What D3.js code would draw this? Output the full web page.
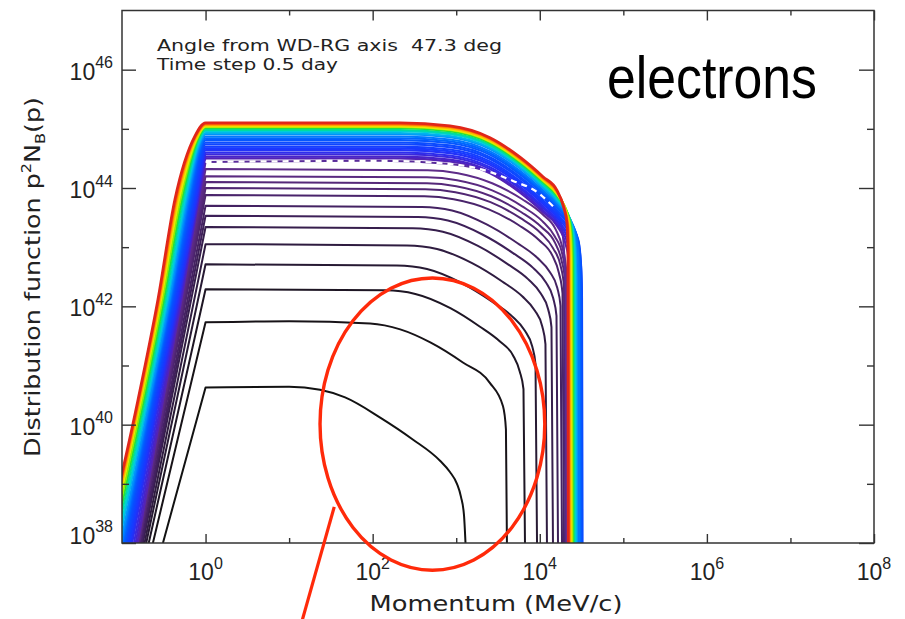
<!DOCTYPE html>
<html>
<head>
<meta charset="utf-8">
<script src="https://cdn.jsdelivr.net/npm/d3@7"></script>
<style>
  body { margin: 0; background: #fff; }
  svg { display: block; }
</style>
</head>
<body>
<svg id="chart" width="905" height="619"></svg>
<script>
// Electron spectra p^2 N(p) versus momentum, one curve per 0.5-day time step.
// Every knot is [log10 p (MeV/c), log10 p^2N(p)].

// Axis ticks
const xMajor = [1e0, 1e2, 1e4, 1e6, 1e8];
const xMinor = [1e1, 1e3, 1e5, 1e7];
const yMajor = [1e38, 1e40, 1e42, 1e44, 1e46];
const yMinor = [1e39, 1e41, 1e43, 1e45];

// Early time steps (black to dark purple)
const earlySpectra = [
  [[-0.51,38],[0,40.63],[1.0,40.64],[1.37,40.59],[1.67,40.46],[2.09,40.12],[2.48,39.75],[2.806,39.39],[2.925,39.20],[3.009,39.00],[3.057,38.78],[3.093,38.47],[3.111,38]],
  [[-0.63,38],[0,41.73],[1.0,41.75],[1.97,41.71],[2.33,41.61],[2.69,41.39],[3.08,41.05],[3.40,40.71],[3.56,40.31],[3.595,39.92],[3.607,38]],
  [[-0.68,38],[0,42.29],[2.15,42.27],[2.51,42.21],[2.93,41.97],[3.28,41.66],[3.52,41.41],[3.68,41.17],[3.76,40.90],[3.805,40.60],[3.823,38]],
  [[-0.71,38],[0,42.71],[2.29,42.69],[2.65,42.63],[3.07,42.39],[3.43,42.08],[3.67,41.83],[3.82,41.59],[3.91,41.32],[3.949,41.02],[3.967,38]],
  [[-0.73,38],[0,43.05],[2.41,43.03],[2.77,42.97],[3.19,42.73],[3.55,42.42],[3.79,42.17],[3.94,41.93],[4.03,41.66],[4.068,41.36],[4.086,38]],
  [[-0.75,38],[0,43.34],[2.48,43.32],[2.84,43.26],[3.26,43.02],[3.62,42.71],[3.86,42.46],[4.01,42.22],[4.10,41.95],[4.14,41.65],[4.158,38]],
  [[-0.76,38],[0,43.53],[2.54,43.51],[2.90,43.45],[3.32,43.21],[3.68,42.90],[3.92,42.65],[4.07,42.41],[4.16,42.14],[4.20,41.84],[4.218,38]],
  [[-0.77,38],[0,43.70],[2.59,43.68],[2.95,43.62],[3.37,43.38],[3.73,43.07],[3.97,42.82],[4.12,42.58],[4.21,42.31],[4.248,42.01],[4.266,38]],
  [[-0.785,38],[0,43.88],[2.62,43.86],[2.97,43.81],[3.39,43.64],[3.75,43.37],[3.99,43.12],[4.15,42.86],[4.23,42.56],[4.272,42.22],[4.29,38]],
  [[-0.79,38],[0,44.00],[2.63,43.98],[2.99,43.93],[3.41,43.76],[3.77,43.49],[4.01,43.24],[4.16,42.98],[4.25,42.68],[4.29,42.34],[4.308,38]],
  [[-0.80,38],[0,44.10],[2.65,44.08],[3.00,44.03],[3.42,43.86],[3.78,43.59],[4.02,43.34],[4.18,43.08],[4.26,42.78],[4.302,42.44],[4.32,38]],
  [[-0.80,38],[0,44.20],[2.65,44.18],[3.01,44.13],[3.43,43.96],[3.79,43.69],[4.03,43.44],[4.18,43.18],[4.27,42.88],[4.308,42.54],[4.326,38]],
  [[-0.81,38],[0,44.32],[2.66,44.30],[3.02,44.25],[3.43,44.08],[3.79,43.81],[4.03,43.56],[4.19,43.30],[4.27,43.00],[4.314,42.66],[4.332,38]]
];
const earlyColors = ["#121212","#171317","#1e1624","#271a33","#2f1c40","#361e4c","#3d2058",
                     "#442262","#4a246b","#502672","#552879","#5a2a80","#5e2c88"];

// Reference spectrum drawn with white dashes over its plateau and roll-off
const dashedSpectrum = [[-0.815,38],[0,44.44],[2.09,44.46],[2.89,44.41],[3.29,44.32],[3.68,44.12],[3.97,43.93],[4.16,43.69],[4.24,43.47],[4.28,43.14],[4.313,42.12],[4.32,38]];
const dashedColor = "#5a2c9a";

// Later time steps (purple through blue, cyan, green, yellow to red)
const lateSpectra = [
  [[-0.814,38],[-0.509,40.42],[-0.288,42.12],[-0.084,43.81],[-0.023,44.28],[0,44.50],[2.327,44.50],[2.925,44.45],[3.404,44.25],[3.763,43.92],[4.038,43.59],[4.206,43.36],[4.313,43.03],[4.349,42.75],[4.361,42.31],[4.365,38]],
  [[-0.836,38],[-0.527,40.42],[-0.300,42.12],[-0.090,43.81],[-0.028,44.31],[0,44.53],[2.327,44.53],[2.925,44.48],[3.404,44.28],[3.763,43.95],[4.038,43.62],[4.206,43.39],[4.337,43.04],[4.373,42.73],[4.385,42.28],[4.389,38]],
  [[-0.856,38],[-0.545,40.42],[-0.312,42.12],[-0.098,43.81],[-0.033,44.35],[0,44.57],[2.327,44.57],[2.925,44.52],[3.404,44.32],[3.763,43.99],[4.038,43.66],[4.206,43.43],[4.361,43.05],[4.397,42.72],[4.409,42.25],[4.413,38]],
  [[-0.878,38],[-0.563,40.42],[-0.324,42.12],[-0.106,43.81],[-0.038,44.38],[0,44.60],[2.327,44.60],[2.925,44.55],[3.404,44.35],[3.763,44.02],[4.038,43.69],[4.206,43.46],[4.385,43.05],[4.421,42.70],[4.433,42.21],[4.437,38]],
  [[-0.892,38],[-0.575,40.42],[-0.336,42.12],[-0.114,43.81],[-0.043,44.42],[0,44.64],[2.327,44.64],[2.925,44.59],[3.404,44.39],[3.763,44.06],[4.038,43.73],[4.206,43.50],[4.409,43.06],[4.445,42.69],[4.457,42.18],[4.461,38]],
  [[-0.908,38],[-0.587,40.42],[-0.348,42.12],[-0.126,43.81],[-0.047,44.45],[0,44.67],[2.327,44.67],[2.925,44.62],[3.404,44.42],[3.763,44.09],[4.038,43.76],[4.206,43.53],[4.433,43.07],[4.469,42.67],[4.481,42.15],[4.485,38]],
  [[-0.922,38],[-0.599,40.42],[-0.360,42.12],[-0.138,43.81],[-0.053,44.48],[0,44.70],[2.327,44.70],[2.925,44.65],[3.404,44.45],[3.763,44.12],[4.038,43.79],[4.206,43.56],[4.445,43.08],[4.481,42.68],[4.493,42.14],[4.497,38]],
  [[-0.938,38],[-0.611,40.42],[-0.372,42.12],[-0.150,43.81],[-0.058,44.52],[0,44.74],[2.327,44.74],[2.925,44.69],[3.404,44.49],[3.763,44.16],[4.038,43.83],[4.206,43.60],[4.457,43.11],[4.493,42.69],[4.505,42.15],[4.509,38]],
  [[-0.953,38],[-0.623,40.42],[-0.384,42.12],[-0.162,43.81],[-0.063,44.55],[0,44.77],[2.327,44.77],[2.925,44.72],[3.404,44.52],[3.763,44.19],[4.038,43.86],[4.206,43.63],[4.457,43.14],[4.493,42.72],[4.505,42.18],[4.509,38]],
  [[-0.969,38],[-0.635,40.42],[-0.396,42.12],[-0.174,43.81],[-0.068,44.59],[0,44.81],[2.327,44.81],[2.925,44.76],[3.404,44.56],[3.763,44.23],[4.038,43.90],[4.206,43.67],[4.445,43.19],[4.481,42.79],[4.493,42.25],[4.497,38]],
  [[-0.984,38],[-0.647,40.42],[-0.408,42.12],[-0.189,43.81],[-0.073,44.62],[0,44.84],[2.327,44.84],[2.925,44.79],[3.404,44.59],[3.763,44.26],[4.038,43.93],[4.206,43.70],[4.433,43.24],[4.469,42.84],[4.481,42.32],[4.485,38]],
  [[-1.000,38],[-0.659,40.42],[-0.420,42.12],[-0.203,43.81],[-0.077,44.65],[0,44.87],[2.327,44.87],[2.925,44.82],[3.404,44.62],[3.763,44.29],[4.038,43.96],[4.206,43.73],[4.421,43.28],[4.457,42.90],[4.469,42.38],[4.473,38]],
  [[-1.016,38],[-0.671,40.42],[-0.432,42.12],[-0.217,43.81],[-0.082,44.69],[0,44.91],[2.327,44.91],[2.925,44.86],[3.404,44.66],[3.763,44.33],[4.038,44.00],[4.206,43.77],[4.397,43.35],[4.433,42.99],[4.445,42.49],[4.449,38]],
  [[-1.037,38],[-0.689,40.42],[-0.449,42.12],[-0.232,43.81],[-0.087,44.71],[0,44.93],[2.327,44.93],[2.925,44.88],[3.404,44.68],[3.763,44.35],[4.038,44.02],[4.206,43.79],[4.385,43.38],[4.421,43.03],[4.433,42.54],[4.437,38]],
  [[-1.053,38],[-0.701,40.42],[-0.461,42.12],[-0.246,43.81],[-0.092,44.74],[0,44.96],[2.327,44.96],[2.925,44.91],[3.404,44.71],[3.763,44.38],[4.038,44.05],[4.206,43.82],[4.373,43.42],[4.409,43.09],[4.421,42.60],[4.425,38]],
  [[-1.074,38],[-0.719,40.42],[-0.479,42.12],[-0.264,43.81],[-0.096,44.76],[0,44.98],[2.327,44.98],[2.925,44.93],[3.404,44.73],[3.763,44.40],[4.038,44.07],[4.206,43.84],[4.361,43.46],[4.397,43.13],[4.409,42.66],[4.413,38]],
  [[-1.096,38],[-0.737,40.42],[-0.497,42.12],[-0.282,43.81],[-0.102,44.79],[0,45.01],[2.327,45.01],[2.925,44.96],[3.404,44.76],[3.763,44.43],[4.038,44.10],[4.206,43.87],[4.349,43.50],[4.385,43.19],[4.397,42.72],[4.401,38]],
  [[-1.118,38],[-0.755,40.42],[-0.515,42.12],[-0.300,43.81],[-0.107,44.81],[0,45.03],[2.327,45.03],[2.925,44.98],[3.404,44.78],[3.763,44.45],[4.038,44.12],[4.206,43.89],[4.337,43.54],[4.373,43.23],[4.385,42.78],[4.389,38]],
  [[-1.140,38],[-0.773,40.42],[-0.533,42.12],[-0.318,43.81],[-0.112,44.82],[0,45.04],[2.327,45.04],[2.925,44.99],[3.404,44.79],[3.763,44.46],[4.038,44.13],[4.206,43.90],[4.325,43.56],[4.361,43.27],[4.373,42.82],[4.377,38]],
  [[-1.157,38],[-0.785,40.42],[-0.545,42.12],[-0.336,43.81],[-0.117,44.84],[0,45.06],[2.327,45.06],[2.925,45.01],[3.404,44.81],[3.763,44.48],[4.038,44.15],[4.206,43.92],[4.313,43.59],[4.349,43.31],[4.361,42.87],[4.365,38]],
  [[-1.172,38],[-0.797,40.42],[-0.557,42.12],[-0.350,43.81],[-0.122,44.86],[0,45.08],[2.327,45.08],[2.925,45.03],[3.404,44.83],[3.763,44.50],[4.038,44.17],[4.206,43.94],[4.301,43.63],[4.337,43.36],[4.349,42.93],[4.353,38]],
  [[-1.189,38],[-0.808,40.42],[-0.569,42.12],[-0.366,43.81],[-0.126,44.88],[0,45.10],[2.327,45.10],[2.925,45.05],[3.404,44.85],[3.763,44.52],[4.038,44.19],[4.206,43.96],[4.289,43.66],[4.325,43.41],[4.337,42.98],[4.341,38]]
];
const lateColors = ["#5523b4","#4823c8","#3a28dc","#2d2ded","#2232f8","#1a38ff","#143eff","#0f45ff",
                    "#0a4cff","#0556ff","#0064ff","#0078ff","#0092fa","#00b0f0","#00cfd8","#00dca0",
                    "#20e040","#90ec00","#e8e800","#ffb400","#ff6a00","#e0261a"];

// Highlight ellipse and pointer (log10 p, log10 N)
const highlightLogP = [1.37, 4.06];
const highlightLogN = [37.54, 42.48];
const pointerFrom = [1.54, 38.61];
const pointerTo = [1.16, 36.71];

// ---------------------------------------------------------------
const svg = d3.select("#chart");
const X0 = 122, X1 = 874, Y0 = 10.5, Y1 = 543;
const x = d3.scaleLog().domain([1e-1, 1e8]).range([X0, X1]);
const y = d3.scaleLog().domain([1e38, 1e47]).range([Y1, Y0]);
const px = d => x(Math.pow(10, d[0]));
const py = d => y(Math.pow(10, d[1]));
const lineLin = d3.line().x(px).y(py);
const lineMono = d3.line().x(px).y(py).curve(d3.curveMonotoneX);

svg.append("rect").attr("width", 905).attr("height", 619).attr("fill", "#fff");
svg.append("defs").append("clipPath").attr("id", "plotArea")
  .append("rect").attr("x", X0).attr("y", Y0).attr("width", X1 - X0).attr("height", Y1 - Y0);

const plot = svg.append("g").attr("clip-path", "url(#plotArea)")
  .attr("fill", "none").attr("stroke-linejoin", "round");

// straight power-law rise, then smooth plateau and cutoff
const risePlusTail = pts => lineLin(pts.slice(0, 2)) + lineMono(pts.slice(1)).replace(/^M/, "L");

earlySpectra.forEach((pts, i) => {
  plot.append("path").attr("d", risePlusTail(pts))
    .attr("stroke", earlyColors[i]).attr("stroke-width", 2);
});
plot.append("path").attr("d", risePlusTail(dashedSpectrum))
  .attr("stroke", dashedColor).attr("stroke-width", 2);

lateSpectra.forEach((pts, i) => {
  plot.append("path").attr("d", lineMono(pts))
    .attr("stroke", lateColors[i])
    .attr("stroke-width", i === lateSpectra.length - 1 ? 2.8 : 2.1);
});

plot.append("path").attr("d", lineMono(dashedSpectrum.slice(1, 8)))
  .attr("stroke", "#fff").attr("stroke-width", 2.2)
  .attr("stroke-dasharray", "6,5");

// axes: frame with inward ticks on all four sides
const axes = svg.append("g");
function ticks(axis, tx, ty) {
  const g = axes.append("g").attr("transform", `translate(${tx},${ty})`).call(axis);
  g.select(".domain").remove();
  g.selectAll("text").remove();
  g.selectAll("line").attr("stroke", "#333").attr("stroke-width", 1.4);
}
const blank = () => "";
ticks(d3.axisBottom(x).tickValues(xMajor).tickSize(-9).tickFormat(blank), 0, Y1);
ticks(d3.axisBottom(x).tickValues(xMinor).tickSize(-5).tickFormat(blank), 0, Y1);
ticks(d3.axisTop(x).tickValues(xMajor).tickSize(-10).tickFormat(blank), 0, Y0);
ticks(d3.axisTop(x).tickValues(xMinor).tickSize(-5).tickFormat(blank), 0, Y0);
ticks(d3.axisLeft(y).tickValues(yMajor).tickSize(-14).tickFormat(blank), X0, 0);
ticks(d3.axisLeft(y).tickValues(yMinor).tickSize(-7).tickFormat(blank), X0, 0);
ticks(d3.axisRight(y).tickValues(yMajor).tickSize(-15).tickFormat(blank), X1, 0);
ticks(d3.axisRight(y).tickValues(yMinor).tickSize(-7).tickFormat(blank), X1, 0);

axes.append("rect").attr("x", X0).attr("y", Y0).attr("width", X1 - X0).attr("height", Y1 - Y0)
  .attr("fill", "none").attr("stroke", "#333").attr("stroke-width", 1.5);

const labelFont = '"Liberation Sans", Arial, sans-serif';
function powerLabel(px0, py0, anchor, v) {
  const t = axes.append("text").attr("x", px0).attr("y", py0)
    .attr("text-anchor", anchor).attr("font-family", labelFont)
    .attr("font-size", 23).attr("fill", "#222");
  t.append("tspan").text("10");
  t.append("tspan").attr("font-size", 16).attr("dy", -11.5).text(Math.round(Math.log10(v)));
}
xMajor.forEach(v => powerLabel(x(v), 580, "middle", v));
yMajor.forEach(v => powerLabel(113, Math.min(y(v) + 10, Y1 + 0.5), "end", v));

// axis titles
const titleFont = '"DejaVu Sans", Verdana, sans-serif';
axes.append("text").attr("x", 496).attr("y", 611).attr("text-anchor", "middle")
  .attr("font-family", titleFont).attr("font-size", 21).attr("fill", "#222")
  .attr("textLength", 253).attr("lengthAdjust", "spacingAndGlyphs")
  .text("Momentum (MeV/c)");

const yTitle = axes.append("text").attr("transform", "translate(40,277) rotate(-90)")
  .attr("text-anchor", "middle").attr("font-family", titleFont)
  .attr("font-size", 22).attr("fill", "#222")
  .attr("textLength", 360).attr("lengthAdjust", "spacingAndGlyphs");
yTitle.append("tspan").text("Distribution function p");
yTitle.append("tspan").attr("font-size", 14).attr("dy", -9).text("2");
yTitle.append("tspan").attr("dy", 9).text("N");
yTitle.append("tspan").attr("font-size", 14).attr("dy", 5).text("B");
yTitle.append("tspan").attr("dy", -5).text("(p)");

// run description
const info = axes.append("g").attr("font-family", titleFont).attr("font-size", 16)
  .attr("fill", "#222");
info.append("text").attr("x", 157).attr("y", 51)
  .attr("textLength", 345).attr("lengthAdjust", "spacingAndGlyphs")
  .text("Angle from WD-RG axis\u00a0 47.3 deg");
info.append("text").attr("x", 157).attr("y", 70)
  .attr("textLength", 181).attr("lengthAdjust", "spacingAndGlyphs")
  .text("Time step 0.5 day");

svg.append("text").attr("x", 607).attr("y", 98)
  .attr("font-family", '"Liberation Sans", Arial, sans-serif').attr("font-size", 60)
  .attr("fill", "#000").attr("textLength", 210).attr("lengthAdjust", "spacingAndGlyphs")
  .text("electrons");

// highlight
const ex0 = x(Math.pow(10, highlightLogP[0])), ex1 = x(Math.pow(10, highlightLogP[1]));
const ey0 = y(Math.pow(10, highlightLogN[1])), ey1 = y(Math.pow(10, highlightLogN[0]));
svg.append("ellipse").attr("cx", (ex0 + ex1) / 2).attr("cy", (ey0 + ey1) / 2)
  .attr("rx", (ex1 - ex0) / 2).attr("ry", (ey1 - ey0) / 2)
  .attr("fill", "none").attr("stroke", "#ff2a0a").attr("stroke-width", 3.4);
svg.append("line")
  .attr("x1", px(pointerFrom)).attr("y1", py(pointerFrom))
  .attr("x2", px(pointerTo)).attr("y2", py(pointerTo))
  .attr("stroke", "#ff2a0a").attr("stroke-width", 3.2);
</script>
</body>
</html>
